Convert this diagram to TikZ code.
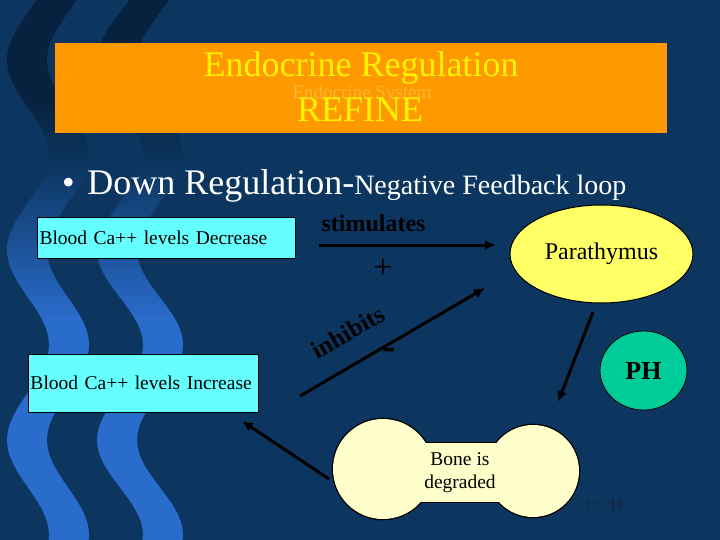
\documentclass[tikz,border=0pt]{standalone}
\usepackage{fontspec}
\setmainfont{Liberation Serif}
\usepackage{tikz}
\usetikzlibrary{shapes.geometric, arrows.meta, positioning}

\definecolor{navybg}{HTML}{0C3660}
\definecolor{stripetop}{HTML}{07223F}
\definecolor{stripelow}{HTML}{2A6CCC}
\definecolor{titleorange}{HTML}{FF9900}
\definecolor{systemorange}{HTML}{FFB733}
\definecolor{boxcyan}{HTML}{66FFFF}
\definecolor{glandyellow}{HTML}{FFFF66}
\definecolor{phgreen}{HTML}{00CC99}
\definecolor{bonecream}{HTML}{FFFFCC}
\definecolor{numdark}{HTML}{1A2238}

\begin{document}
\begin{tikzpicture}[x=1pt, y=-1pt,
			>={Latex[length=11pt,width=10pt]},   %Voreinstellung fuer Pfeilspitzen
			arr/.style={->, line width=3pt, black},
			titletext/.style={anchor=base, text=yellow, font=\fontsize{36}{40}\selectfont},
			levelbox/.style={rectangle, draw=black, line width=0.8pt, fill=boxcyan, inner xsep=2.5pt, align=left, font=\fontsize{19.5}{23}\selectfont},
			numtext/.style={anchor=base, inner sep=0pt, text=numdark, font=\fontsize{13}{15}\selectfont}]
			%Hintergrund
			\useasboundingbox (0,0) rectangle (720,540);
			\fill[navybg] (0,0) rectangle (720,540);
			% Wellen links, oben dunkel, unten hell
			\foreach \cx/\amp in {48/21,140/23}{
				\begin{scope}
					\clip plot[smooth, domain=-5:545, samples=56, variable=\t] ({\cx-20+\amp*cos((\t-155)/190*360)},\t)
						-- plot[smooth, domain=545:-5, samples=56, variable=\t] ({\cx+20+\amp*cos((\t-155)/190*360)},\t) -- cycle;
					\fill[stripetop] (0,-5) rectangle (220,100);
					\shade[top color=stripetop, bottom color=navybg] (0,100) rectangle (220,165);
					\shade[top color=navybg, bottom color=stripelow] (0,165) rectangle (220,320);
					\fill[stripelow] (0,320) rectangle (220,545);
				\end{scope}
			}
			% Titel
			\node[rectangle, fill=titleorange, minimum width=612pt, minimum height=90pt] (titlebox) at (361,88) {};
			\node[titletext] (title) at (361,77) {Endocrine Regulation};
			\node[anchor=base, text=systemorange, font=\fontsize{19}{21}\selectfont] (system) at (362,99) {Endocrine System};
			\node[titletext] (refine) at (360,122) {REFINE};
			% Aufzaehlung
			\node[anchor=base west, inner sep=0pt, text=white, font=\fontsize{36}{40}\selectfont] (bullet) at (62,195) {\textbullet\hspace{12.5pt}Down Regulation-\fontsize{28}{32}\selectfont Negative Feedback loop};
			% Kaestchen und Druesen
			\node[levelbox, text width=253pt, minimum height=41pt] (dec) at (166,237.5) {Blood Ca++ levels Decrease};
			\node[levelbox, text width=225pt, minimum height=58pt] (inc) at (143,383) {Blood Ca++ levels Increase};
			\node[ellipse, draw, line width=1pt, fill=glandyellow, minimum width=183pt, minimum height=98pt, font=\fontsize{24}{28}\selectfont] (para) at (601.5,254) {Parathymus};
			\node[ellipse, draw, line width=0.8pt, fill=phgreen, minimum width=87pt, minimum height=79pt, font=\bfseries\fontsize{26}{30}\selectfont] (ph) at (643.5,370.5) {PH};
			% Knochen
			\coordinate (boneL) at (383,469);
			\coordinate (boneR) at (533,471);
			\draw[line width=2.6pt] (boneL) circle (50);
			\draw[line width=2.6pt] (boneR) circle (46);
			\draw[line width=2.6pt] (383,443) rectangle (533,502);
			\fill[bonecream] (boneL) circle (50);
			\fill[bonecream] (boneR) circle (46);
			\fill[bonecream] (383,443) rectangle (533,502);
			\node[align=center, font=\fontsize{19.5}{23.5}\selectfont] (bone) at (460,472.5) {Bone is\\degraded};
			% Pfeile
			\coordinate (stimA) at (319,245);
			\coordinate (stimB) at (496,245);
			\coordinate (inhA) at (300,396);
			\coordinate (inhB) at (485,288);
			\coordinate (paraOut) at (593,312);
			\coordinate (boneIn) at (558,402);
			\coordinate (boneOut) at (329,479);
			\coordinate (incIn) at (242,421);
			\draw[arr] (stimA) -- (stimB);
			\draw[arr] (inhA) -- (inhB);
			\draw[arr] (paraOut) -- (boneIn);
			\draw[arr] (boneOut) -- (incIn);
			%Beschriftung
			\node[anchor=base, font=\bfseries\fontsize{24}{28}\selectfont] (stimlabel) at (373.5,231) {stimulates};
			\node[font=\fontsize{34}{36}\selectfont] (plus) at (383,269) {+};
			\node[rotate=30, font=\bfseries\fontsize{25}{28}\selectfont] (inhlabel) at (348,332) {inhibits};
			\node[inner sep=0pt, font=\bfseries\fontsize{40}{40}\selectfont] (minus) at (389,354) {-};
			% Foliennummern
			\node[numtext] (num) at (591,509) {17};
			\node[numtext] (numA) at (616,507) {15};
			\node[numtext] (numB) at (616,510) {17};
		\end{tikzpicture}
\end{document}
